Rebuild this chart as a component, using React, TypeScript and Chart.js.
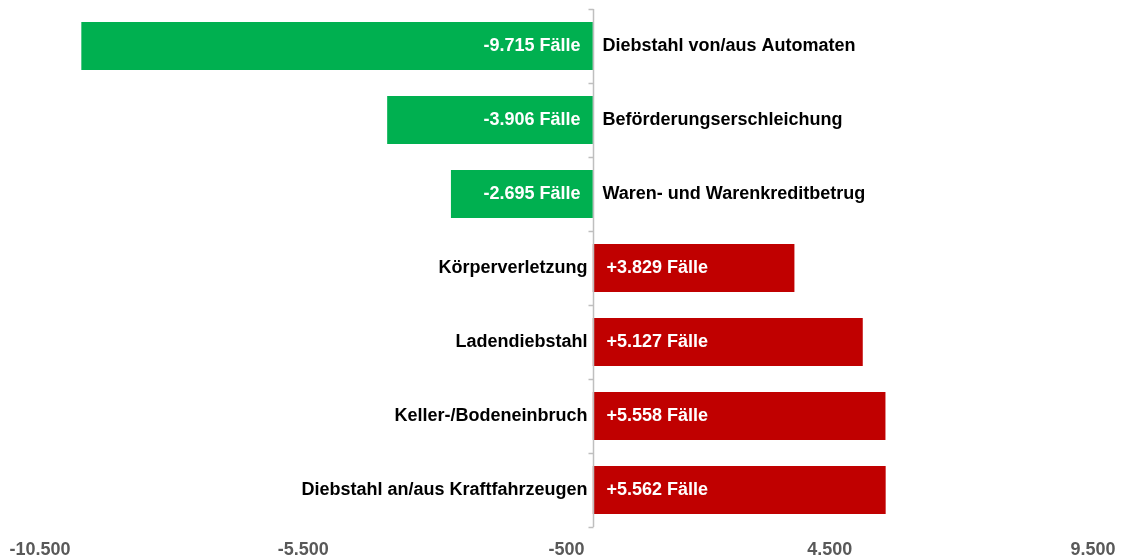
import React, { useEffect, useRef } from "react";
import { Chart, registerables } from "chart.js";

Chart.register(...registerables);

const categories = [
  "Diebstahl von/aus Automaten",
  "Beförderungserschleichung",
  "Waren- und Warenkreditbetrug",
  "Körperverletzung",
  "Ladendiebstahl",
  "Keller-/Bodeneinbruch",
  "Diebstahl an/aus Kraftfahrzeugen",
];
const changes = [-9715, -3906, -2695, 3829, 5127, 5558, 5562];
const axisMin = -10500;
const axisMax = 9500;
const axisStep = 5000;

const GREEN = "#00B050";
const RED = "#C00000";
const FONT = "'Liberation Sans', Arial, sans-serif";

function fmt(n: number): string {
  const s = Math.abs(Math.round(n)).toString();
  const parts: string[] = [];
  for (let i = s.length; i > 0; i -= 3) parts.unshift(s.slice(Math.max(0, i - 3), i));
  return (n < 0 ? "-" : "") + parts.join(".");
}

const labelPlugin = {
  id: "barLabels",
  afterDraw(chart: any) {
    const ctx = chart.ctx;
    const area = chart.chartArea;
    const xScale = chart.scales.x;
    const zeroX = Math.round(xScale.getPixelForValue(0)) + 0.5;
    // axis line
    ctx.save();
    ctx.strokeStyle = "#BFBFBF";
    ctx.lineWidth = 1.5;
    ctx.beginPath();
    ctx.moveTo(zeroX, area.top);
    ctx.lineTo(zeroX, area.bottom);
    const n = categories.length;
    const step = (area.bottom - area.top) / n;
    for (let i = 0; i <= n; i++) {
      const y = Math.round(area.top + i * step) + 0.5;
      ctx.moveTo(zeroX - 5, y);
      ctx.lineTo(zeroX, y);
    }
    ctx.stroke();

    const meta = chart.getDatasetMeta(0);
    ctx.font = `bold 18px ${FONT}`;
    ctx.textBaseline = "middle";
    meta.data.forEach((bar: any, i: number) => {
      const v = changes[i];
      const base = zeroX;
      const y = bar.y;
      const valText = (v > 0 ? "+" : "") + fmt(v) + " Fälle";
      ctx.fillStyle = "#FFFFFF";
      if (v < 0) {
        ctx.textAlign = "right";
        ctx.fillText(valText, base - 13, y);
        ctx.fillStyle = "#000000";
        ctx.textAlign = "left";
        ctx.fillText(categories[i], base + 9, y);
      } else {
        ctx.textAlign = "left";
        ctx.fillText(valText, base + 13, y);
        ctx.fillStyle = "#000000";
        ctx.textAlign = "right";
        ctx.fillText(categories[i], base - 6, y);
      }
    });
    ctx.restore();
  },
};

export default function App() {
  const canvasRef = useRef<HTMLCanvasElement | null>(null);

  useEffect(() => {
    if (!canvasRef.current) return;
    const chart = new Chart(canvasRef.current, {
      type: "bar",
      data: {
        labels: categories,
        datasets: [
          {
            data: changes,
            backgroundColor: changes.map((v) => (v < 0 ? GREEN : RED)),
            borderWidth: 0,
            barPercentage: 0.65,
            categoryPercentage: 1,
          },
        ],
      },
      options: {
        indexAxis: "y",
        responsive: true,
        maintainAspectRatio: false,
        animation: false,
        layout: { padding: { left: 40, right: 28, top: 9, bottom: 0 } },
        plugins: {
          legend: { display: false },
          tooltip: { enabled: false },
        },
        scales: {
          x: {
            type: "linear",
            min: axisMin,
            max: axisMax,
            grid: { display: false, drawTicks: false },
            border: { display: false },
            ticks: {
              stepSize: axisStep,
              autoSkip: false,
              maxRotation: 0,
              padding: 12,
              color: "#595959",
              font: { family: FONT, size: 18, weight: "bold" },
              callback: (value: any) => fmt(Number(value)),
            },
            afterFit: (scale: any) => {
              scale.height = 31;
              scale.paddingLeft = 0;
              scale.paddingRight = 0;
            },
          },
          y: {
            display: false,
            offset: true,
          },
        },
      },
      plugins: [labelPlugin],
    });
    return () => chart.destroy();
  }, []);

  return (
    <div style={{ position: "fixed", left: 0, top: 0, width: 1121, height: 558, background: "#fff" }}>
      <canvas ref={canvasRef} />
    </div>
  );
}
